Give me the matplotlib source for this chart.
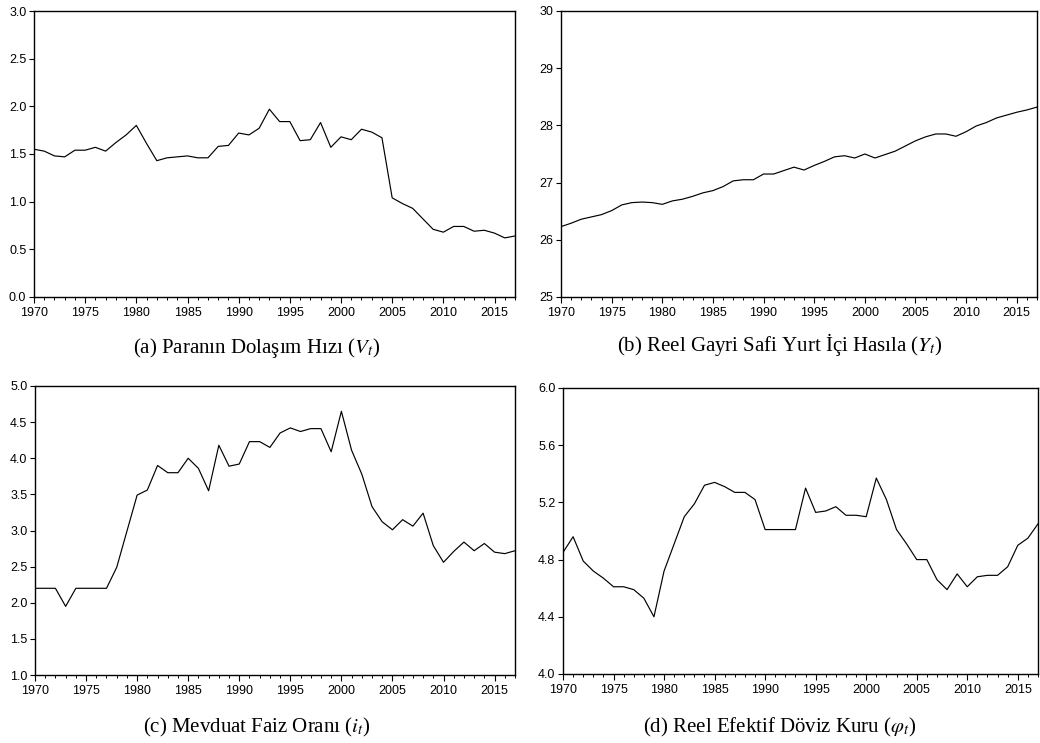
import numpy as np
import matplotlib
matplotlib.use("Agg")
import matplotlib.pyplot as plt
from matplotlib.ticker import MultipleLocator, FormatStrFormatter

plt.rcParams['font.family'] = ['Liberation Sans', 'DejaVu Sans']
plt.rcParams['mathtext.fontset'] = 'stix'

years = np.arange(1970, 2018)

# (a) velocity of money
velocity = [1.55, 1.53, 1.48, 1.47, 1.54, 1.54, 1.57, 1.53, 1.62, 1.70,
            1.80, 1.61, 1.43, 1.46, 1.47, 1.48, 1.46, 1.46, 1.58, 1.59,
            1.72, 1.70, 1.77, 1.97, 1.84, 1.84, 1.64, 1.65, 1.83, 1.57,
            1.68, 1.65, 1.76, 1.73, 1.67, 1.04, 0.98, 0.93, 0.82, 0.71,
            0.68, 0.74, 0.74, 0.69, 0.70, 0.67, 0.62, 0.64]

# (b) real GDP (log)
real_gdp = [26.23, 26.29, 26.36, 26.40, 26.44, 26.51, 26.61, 26.65, 26.66, 26.65,
            26.62, 26.68, 26.71, 26.76, 26.82, 26.86, 26.93, 27.03, 27.05, 27.05,
            27.15, 27.15, 27.21, 27.27, 27.22, 27.30, 27.37, 27.45, 27.47, 27.43,
            27.50, 27.43, 27.49, 27.55, 27.64, 27.73, 27.80, 27.85, 27.85, 27.81,
            27.89, 27.99, 28.05, 28.13, 28.18, 28.23, 28.27, 28.32]

# (c) deposit interest rate
deposit_rate = [2.20, 2.20, 2.20, 1.95, 2.20, 2.20, 2.20, 2.20, 2.49, 2.99,
                3.49, 3.56, 3.90, 3.80, 3.80, 4.00, 3.86, 3.55, 4.18, 3.89,
                3.92, 4.23, 4.23, 4.15, 4.35, 4.42, 4.37, 4.41, 4.41, 4.09,
                4.65, 4.11, 3.78, 3.33, 3.12, 3.01, 3.15, 3.06, 3.24, 2.79,
                2.56, 2.71, 2.84, 2.72, 2.82, 2.70, 2.68, 2.72]

# (d) real effective exchange rate
reer = [4.85, 4.96, 4.79, 4.72, 4.67, 4.61, 4.61, 4.59, 4.53, 4.40,
        4.72, 4.91, 5.10, 5.19, 5.32, 5.34, 5.31, 5.27, 5.27, 5.22,
        5.01, 5.01, 5.01, 5.01, 5.30, 5.13, 5.14, 5.17, 5.11, 5.11,
        5.10, 5.37, 5.22, 5.01, 4.91, 4.80, 4.80, 4.66, 4.59, 4.70,
        4.61, 4.68, 4.69, 4.69, 4.75, 4.90, 4.95, 5.05]

W, H = 1040, 743
fig = plt.figure(figsize=(W / 100, H / 100), dpi=100)


def px_axes(left, top, right, bottom):
    return fig.add_axes([left / W, 1 - bottom / H, (right - left) / W, (bottom - top) / H])


panels = [
    (px_axes(34, 11, 515, 297), velocity, (0, 3), 0.5, '%.1f',
     '(a) Paranın Dolaşım Hızı ($V_t$)', 257, 348),
    (px_axes(561, 11, 1037, 297), real_gdp, (25, 30), 1, '%d',
     '(b) Reel Gayri Safi Yurt İçi Hasıla ($Y_t$)', 780, 345),
    (px_axes(35, 386, 515, 675), deposit_rate, (1, 5), 0.5, '%.1f',
     '(c) Mevduat Faiz Oranı ($i_t$)', 257, 727),
    (px_axes(563, 388, 1038, 674), reer, (4, 6), 0.4, '%.1f',
     '(d) Reel Efektif Döviz Kuru ($\\varphi_t$)', 780, 727),
]

for ax, series, ylim, ystep, yfmt, caption, cx, cy in panels:
    ax.plot(years, series, color='black', linewidth=0.85)
    ax.set_xlim(1970, 2017)
    ax.set_ylim(*ylim)
    ax.xaxis.set_major_locator(MultipleLocator(5))
    ax.xaxis.set_minor_locator(MultipleLocator(1))
    ax.yaxis.set_major_locator(MultipleLocator(ystep))
    ax.yaxis.set_major_formatter(FormatStrFormatter(yfmt))
    ax.tick_params(axis='both', which='major', direction='out', length=4,
                   width=0.8, labelsize=9, colors='black')
    ax.tick_params(axis='x', which='minor', direction='out', length=2.5, width=0.7)
    ax.tick_params(axis='x', which='major', pad=3)
    ax.tick_params(axis='y', which='major', length=3.5, pad=2)
    for side in ax.spines.values():
        side.set_linewidth(1.0)
    fig.text(cx / W, 1 - cy / H, caption, ha='center', va='center',
             fontsize=15, family=['Liberation Serif', 'DejaVu Serif'])

fig.savefig('out.png', dpi=100)
